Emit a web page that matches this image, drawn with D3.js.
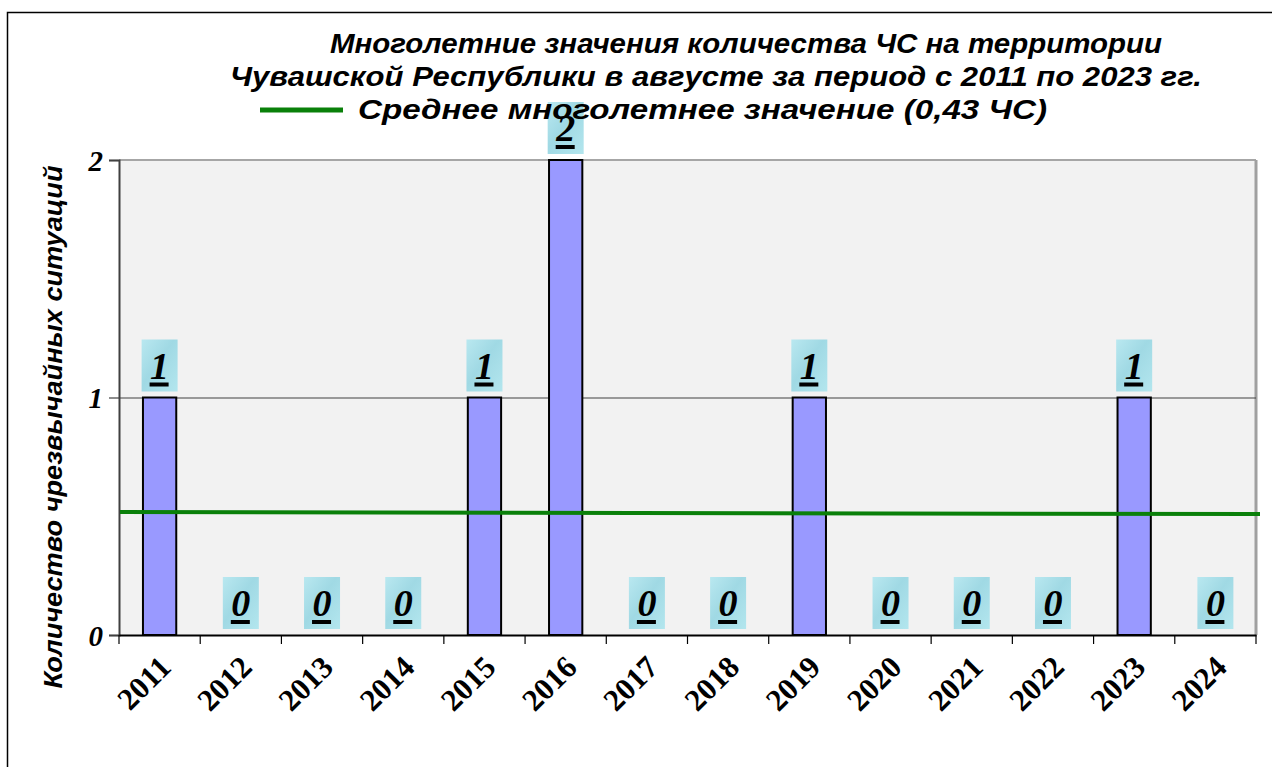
<!DOCTYPE html>
<html>
<head>
<meta charset="utf-8">
<script src="https://cdn.jsdelivr.net/npm/d3@7"></script>
<style>
  body { margin: 0; background: #fff; }
</style>
</head>
<body>
<div id="chart"></div>
<script>
var years = ["2011", "2012", "2013", "2014", "2015", "2016", "2017", "2018", "2019", "2020", "2021", "2022", "2023", "2024"];
var counts = [1, 0, 0, 0, 1, 2, 0, 0, 1, 0, 0, 0, 1, 0];
var yTicks = [0, 1, 2];
// the average line as drawn in the picture (start and end level)
var avgLine = [0.518, 0.509];
var titleLines = [
  "Многолетние значения количества ЧС на территории",
  "Чувашской Республики в августе за период с 2011 по 2023 гг."
];
var legendLabel = "Среднее многолетнее значение (0,43 ЧС)";
var yTitle = "Количество чрезвычайных ситуаций";

var svgWidth = 1272;
var svgHeight = 767;

var plot = { left: 119, right: 1256, top: 160, bottom: 635 };

var svg = d3.select("#chart")
  .append("svg")
  .attr("width", svgWidth)
  .attr("height", svgHeight);

var defs = svg.append("defs");
var grad = defs.append("linearGradient")
  .attr("id", "boxFill")
  .attr("x1", "0").attr("y1", "0").attr("x2", "1").attr("y2", "1");
grad.append("stop").attr("offset", "0%").attr("stop-color", "#b9e8f0");
grad.append("stop").attr("offset", "45%").attr("stop-color", "#a0d9e4");
grad.append("stop").attr("offset", "100%").attr("stop-color", "#b3e6ee");

// outer frame
svg.append("rect")
  .attr("x", 7.5).attr("y", 12.5)
  .attr("width", 1300).attr("height", 800)
  .attr("fill", "#fff")
  .attr("stroke", "#000")
  .attr("stroke-width", 1.5);

var x = d3.scaleBand()
  .domain(years)
  .range([plot.left, plot.right]);

var y = d3.scaleLinear()
  .domain([0, 2])
  .range([plot.bottom, plot.top]);

// plot area
svg.append("rect")
  .attr("x", plot.left).attr("y", plot.top)
  .attr("width", plot.right - plot.left).attr("height", plot.bottom - plot.top)
  .attr("fill", "#f2f2f2");

svg.append("line")
  .attr("x1", plot.left).attr("x2", plot.right)
  .attr("y1", plot.top).attr("y2", plot.top)
  .attr("stroke", "#a6a6a6").attr("stroke-width", 2);
svg.append("line")
  .attr("x1", plot.right).attr("x2", plot.right)
  .attr("y1", plot.top).attr("y2", plot.bottom)
  .attr("stroke", "#a0a0a0").attr("stroke-width", 3);

// grid
svg.append("g")
  .selectAll("line")
  .data(yTicks.filter(d => d > 0 && d < 2))
  .enter().append("line")
  .attr("x1", plot.left).attr("x2", plot.right)
  .attr("y1", d => y(d) + 0.5).attr("y2", d => y(d) + 0.5)
  .attr("stroke", "#404040").attr("stroke-width", 1);

// y axis
var leftAxis = d3.axisLeft(y)
  .tickValues(yTicks)
  .tickSize(10)
  .tickPadding(6)
  .tickFormat(d3.format("d"));

var yAxisG = svg.append("g")
  .attr("transform", `translate(${plot.left}, 0)`)
  .call(leftAxis);
yAxisG.select(".domain").attr("stroke", "#404040").attr("stroke-width", 2);
yAxisG.selectAll(".tick line").attr("stroke", "#404040").attr("stroke-width", 1.2);
yAxisG.selectAll(".tick text")
  .attr("font-family", "'Liberation Serif', 'Times New Roman', serif")
  .attr("font-weight", "bold")
  .attr("font-style", "italic")
  .attr("font-size", "29px")
  .attr("fill", "#000")
  .attr("dy", "0.36em");

// bars
var barW = x.step() * 0.41;
svg.append("g")
  .selectAll("rect")
  .data(counts.map((c, i) => ({ year: years[i], value: c })).filter(d => d.value > 0))
  .enter().append("rect")
  .attr("x", d => x(d.year) + (x.step() - barW) / 2)
  .attr("y", d => y(d.value))
  .attr("width", barW)
  .attr("height", d => y(0) - y(d.value))
  .attr("fill", "#9999ff")
  .attr("stroke", "#000")
  .attr("stroke-width", 2);

// x axis
var bottomAxis = d3.axisBottom(x).tickSize(0).tickPadding(0);
var xAxisG = svg.append("g")
  .attr("transform", `translate(0, ${plot.bottom})`)
  .call(bottomAxis);
xAxisG.select(".domain").attr("stroke", "#000").attr("stroke-width", 2);
xAxisG.selectAll(".tick text")
  .attr("font-family", "'Liberation Serif', 'Times New Roman', serif")
  .attr("font-weight", "bold")
  .attr("font-size", "31px")
  .attr("fill", "#000")
  .attr("text-anchor", "end")
  .attr("y", 0)
  .attr("dy", 0)
  .attr("transform", "translate(13, 34) rotate(-45)");

// tick marks between categories
xAxisG.append("g")
  .selectAll("line")
  .data(years.map(d => x(d)).concat([plot.right]))
  .enter().append("line")
  .attr("x1", d => d).attr("x2", d => d)
  .attr("y1", 0).attr("y2", 9)
  .attr("stroke", "#000").attr("stroke-width", 1.2);

// average line
svg.append("line")
  .attr("x1", plot.left + 1).attr("x2", 1260)
  .attr("y1", y(avgLine[0])).attr("y2", y(avgLine[1]))
  .attr("stroke", "#0a800a")
  .attr("stroke-width", 4);

// data labels
var labels = svg.append("g")
  .selectAll("g")
  .data(counts.map((c, i) => ({ year: years[i], value: c })))
  .enter().append("g")
  .attr("transform", d => `translate(${x(d.year) + x.step() / 2}, ${y(d.value) - 6})`);

labels.append("rect")
  .attr("x", -18).attr("y", -52)
  .attr("width", 36).attr("height", 52)
  .attr("fill", "url(#boxFill)");

labels.append("text")
  .attr("x", 0).attr("y", -13)
  .attr("text-anchor", "middle")
  .attr("font-family", "'Liberation Serif', 'Times New Roman', serif")
  .attr("font-weight", "bold")
  .attr("font-style", "italic")
  .attr("font-size", "38px")
  .attr("fill", "#000")
  .text(d => d.value);

labels.append("rect")
  .attr("x", -10).attr("y", -9)
  .attr("width", 19).attr("height", 4)
  .attr("fill", "#000");

// title
var titleX = [330, 230];
var titleW = [832, 972];
svg.append("g")
  .selectAll("text")
  .data(titleLines)
  .enter().append("text")
  .attr("x", (d, i) => titleX[i])
  .attr("y", (d, i) => 53 + i * 33)
  .attr("textLength", (d, i) => titleW[i])
  .attr("lengthAdjust", "spacingAndGlyphs")
  .attr("font-family", "'Liberation Sans', Arial, sans-serif")
  .attr("font-weight", "bold")
  .attr("font-style", "italic")
  .attr("font-size", "28px")
  .attr("fill", "#000")
  .text(d => d);

// legend
svg.append("line")
  .attr("x1", 260).attr("x2", 343)
  .attr("y1", 110).attr("y2", 110)
  .attr("stroke", "#0a800a").attr("stroke-width", 5);

svg.append("text")
  .attr("x", 358).attr("y", 119)
  .attr("textLength", 689)
  .attr("lengthAdjust", "spacingAndGlyphs")
  .attr("font-family", "'Liberation Sans', Arial, sans-serif")
  .attr("font-weight", "bold")
  .attr("font-style", "italic")
  .attr("font-size", "28px")
  .attr("fill", "#000")
  .text(legendLabel);

// y axis title
svg.append("text")
  .attr("transform", `translate(62, 427) rotate(-90)`)
  .attr("text-anchor", "middle")
  .attr("textLength", 523)
  .attr("lengthAdjust", "spacingAndGlyphs")
  .attr("font-family", "'Liberation Sans', Arial, sans-serif")
  .attr("font-weight", "bold")
  .attr("font-style", "italic")
  .attr("font-size", "26px")
  .attr("fill", "#000")
  .text(yTitle);
</script>
</body>
</html>
